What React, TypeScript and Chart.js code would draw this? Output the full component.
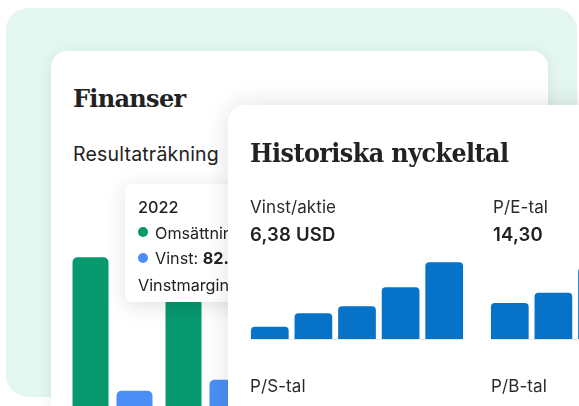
import React, { useEffect, useRef } from "react";
import { Chart, registerables } from "chart.js";

Chart.register(...registerables);

// ---- data ----
const years = ["2019", "2020", "2021", "2022", "2023"];
const omsattning = [296, 330, 350, 372, 385];
const vinst = [53, 73, 80, 82.5, 90];

const epsYears = ["2019", "2020", "2021", "2022", "2023"];
const epsValues = [1.02, 2.15, 2.73, 4.3, 6.38];
const peValues = [10.5, 13.5, 20.8, 17.2, 14.3];

const GREEN = "#07996e";
const LIGHT_BLUE = "#4b8ff6";
const DARK_BLUE = "#0673c8";

function useBarChart(
  ref: React.RefObject<HTMLCanvasElement>,
  labels: string[],
  datasets: any[],
  yMax: number,
  catPct: number,
  barPct: number
) {
  useEffect(() => {
    if (!ref.current) return;
    const chart = new Chart(ref.current, {
      type: "bar",
      data: { labels, datasets },
      options: {
        responsive: false,
        animation: false,
        maintainAspectRatio: false,
        layout: { padding: 0 },
        datasets: { bar: { categoryPercentage: catPct, barPercentage: barPct } } as any,
        plugins: { legend: { display: false }, tooltip: { enabled: false } },
        events: [],
        scales: {
          x: { display: false },
          y: { display: false, min: 0, max: yMax },
        },
      },
    });
    return () => chart.destroy();
  }, []);
}

const sans = "Inter, Roboto, sans-serif";
const slab = "'DejaVu Serif', serif";

const abs = (left: number, top: number, extra: React.CSSProperties = {}): React.CSSProperties => ({
  position: "absolute",
  left,
  top,
  whiteSpace: "nowrap",
  ...extra,
});

export default function App() {
  const mainRef = useRef<HTMLCanvasElement>(null);
  const epsRef = useRef<HTMLCanvasElement>(null);
  const peRef = useRef<HTMLCanvasElement>(null);

  useBarChart(
    mainRef,
    years,
    [
      { label: "Omsättning", data: omsattning, backgroundColor: GREEN, borderRadius: 5 },
      { label: "Vinst", data: vinst, backgroundColor: LIGHT_BLUE, borderRadius: 5 },
    ],
    400,
    0.946,
    0.818
  );
  useBarChart(
    epsRef,
    epsYears,
    [{ label: "Vinst/aktie", data: epsValues, backgroundColor: DARK_BLUE, borderRadius: 4 }],
    7.4,
    1,
    0.865
  );
  useBarChart(
    peRef,
    epsYears,
    [{ label: "P/E-tal", data: peValues, backgroundColor: DARK_BLUE, borderRadius: 4 }],
    26,
    1,
    0.865
  );

  const textDark = "#222222";
  const label: React.CSSProperties = { fontFamily: sans, fontSize: 17, lineHeight: "17px", color: "#2b2b2b", letterSpacing: 0.1 };
  const value: React.CSSProperties = { fontFamily: sans, fontSize: 18.5, lineHeight: "18.5px", fontWeight: 600, color: textDark, letterSpacing: 0.2 };
  const tip: React.CSSProperties = { fontFamily: sans, fontSize: 16.2, lineHeight: "16.2px", color: "#222" };

  return (
    <div style={{ position: "fixed", left: 0, top: 0, width: 579, height: 406, overflow: "hidden", background: "#ffffff" }}>
      {/* green background */}
      <div style={abs(6, 8, { width: 571, height: 389, borderRadius: 22, background: "#e3f6ef" })} />

      {/* Finanser card */}
      <div
        style={abs(51, 51, {
          width: 497,
          height: 420,
          borderRadius: 16,
          background: "#ffffff",
          boxShadow: "0 2px 14px rgba(0,0,0,0.07)",
        })}
      />
      <div style={abs(73, 86.5, { fontFamily: slab, fontWeight: 700, fontSize: 24, lineHeight: "24px", color: textDark, letterSpacing: -0.7 })}>
        Finanser
      </div>
      <div style={abs(73, 144.5, { fontFamily: sans, fontSize: 19.5, lineHeight: "19.5px", color: textDark, letterSpacing: 0.2 })}>
        Resultaträkning
      </div>
      <canvas ref={mainRef} width={465} height={220} style={abs(66, 200, { width: 465, height: 220 })} />

      {/* tooltip */}
      <div
        style={abs(125, 184, {
          width: 200,
          height: 118,
          borderRadius: 7,
          background: "#ffffff",
          boxShadow: "0 4px 22px rgba(0,0,0,0.12)",
        })}
      />
      <div style={abs(138, 198.6, { ...tip, fontWeight: 500 })}>2022</div>
      <div style={abs(137.5, 227, { width: 10, height: 10, borderRadius: 5, background: GREEN })} />
      <div style={abs(155, 224.6, tip)}>Omsättning: 394.3</div>
      <div style={abs(137.5, 253, { width: 10, height: 10, borderRadius: 5, background: LIGHT_BLUE })} />
      <div style={abs(155, 250.2, tip)}>
        Vinst: <span style={{ fontWeight: 700 }}>82.5</span>
      </div>
      <div style={abs(138, 276.8, tip)}>Vinstmarginal: 21%</div>

      {/* Historiska nyckeltal card */}
      <div
        style={abs(228, 105, {
          width: 420,
          height: 360,
          borderRadius: 16,
          background: "#ffffff",
          boxShadow: "0 0 26px rgba(0,0,0,0.12)",
        })}
      />
      <div
        style={abs(250, 139.8, {
          fontFamily: slab,
          fontWeight: 700,
          fontSize: 26,
          lineHeight: "26px",
          color: textDark,
          letterSpacing: -0.6,
          transform: "scaleX(0.918)",
          transformOrigin: "left center",
        })}
      >
        Historiska nyckeltal
      </div>
      <div style={abs(250, 199, label)}>Vinst/aktie</div>
      <div style={abs(250, 225.2, value)}>6,38 USD</div>
      <div style={abs(493, 199, label)}>P/E-tal</div>
      <div style={abs(493, 225.2, value)}>14,30</div>

      <div style={abs(250, 339, { width: 213, height: 1, background: "#e6e6e6" })} />
      <canvas ref={epsRef} width={218} height={89} style={abs(248, 250, { width: 218, height: 89 })} />
      <div style={abs(491, 339, { width: 213, height: 1, background: "#e6e6e6" })} />
      <canvas ref={peRef} width={218} height={89} style={abs(488, 250, { width: 218, height: 89 })} />

      <div style={abs(250, 378, label)}>P/S-tal</div>
      <div style={abs(491, 378, label)}>P/B-tal</div>
    </div>
  );
}
